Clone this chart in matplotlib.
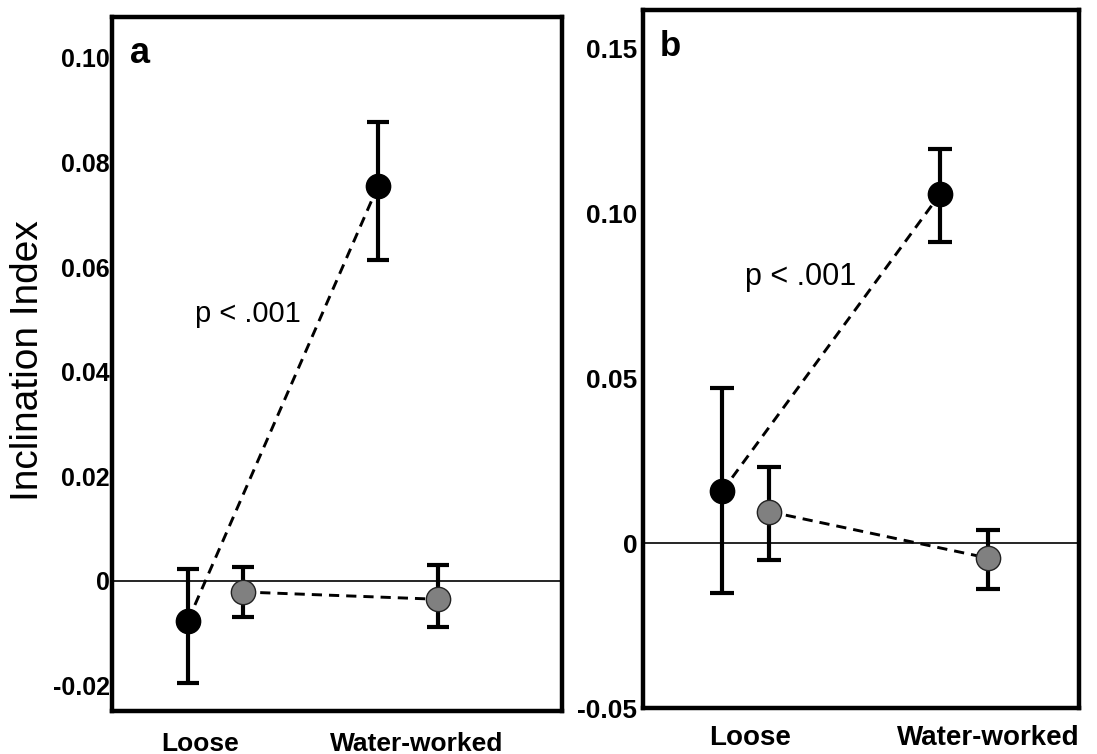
import matplotlib
matplotlib.use("Agg")
import matplotlib.pyplot as plt

plt.rcParams['font.family'] = ['Liberation Sans', 'DejaVu Sans']

# ---- data -------------------------------------------------------------
categories = ["Loose", "Water-worked"]

# panel a
a_black_mean = [-0.0076, 0.0755]
a_black_low = [-0.0195, 0.0614]
a_black_high = [0.0023, 0.0878]
a_gray_mean = [-0.0021, -0.0035]
a_gray_low = [-0.0069, -0.0088]
a_gray_high = [0.0027, 0.0031]
a_yticks = [-0.02, 0.0, 0.02, 0.04, 0.06, 0.08, 0.10]
a_yticklabels = ["-0.02", "0", "0.02", "0.04", "0.06", "0.08", "0.10"]

# panel b
b_black_mean = [0.0157, 0.1059]
b_black_low = [-0.0151, 0.0913]
b_black_high = [0.0471, 0.1197]
b_gray_mean = [0.0096, -0.0045]
b_gray_low = [-0.0050, -0.0138]
b_gray_high = [0.0232, 0.0040]
b_yticks = [-0.05, 0.0, 0.05, 0.10, 0.15]
b_yticklabels = ["-0.05", "0", "0.05", "0.10", "0.15"]

p_text = "p < .001"

# ---- layout -------------------------------------------------------------
fig = plt.figure(figsize=(10.97, 7.54), dpi=100)
ax_a = fig.add_axes([0.1021, 0.0570, 0.4102, 0.9204])
ax_b = fig.add_axes([0.5861, 0.0610, 0.3975, 0.9257])

GRAY = "#808080"


def errs(mean, low, high):
    return [[m - l for m, l in zip(mean, low)], [h - m for m, h in zip(mean, high)]]


def draw_series(ax, x, mean, low, high, face, edge, ms, capsize):
    ax.errorbar(x, mean, yerr=errs(mean, low, high), fmt="none",
                ecolor="black", elinewidth=3.0, capsize=capsize, capthick=3.0,
                zorder=3)
    ax.plot(x, mean, linestyle="none", marker="o", markersize=ms,
            markerfacecolor=face, markeredgecolor=edge, markeredgewidth=1.0,
            zorder=4)


def draw_panel(ax, letter, xb, xg, xt, bm, bl, bh, gm, gl, gh,
               yticks, yticklabels, ylim, xlim, ptxt_xy,
               tick_fs, cat_fs, p_fs, letter_fs, capsize, ypad, xpad):
    ax.axhline(0, color="black", lw=1.2, zorder=1)
    dash = (0, (3.5, 2.4))
    # dashed connectors
    ax.plot(xb, bm, color="black", lw=2.1, linestyle=dash, zorder=2)
    ax.plot(xg, gm, color="black", lw=2.1, linestyle=dash, zorder=2)
    # error bars with markers
    draw_series(ax, xb, bm, bl, bh, "black", "black", 17.5, capsize)
    draw_series(ax, xg, gm, gl, gh, GRAY, "#222222", 17.5, capsize)

    ax.set_xlim(*xlim)
    ax.set_ylim(*ylim)
    ax.set_yticks(yticks)
    ax.set_yticklabels(yticklabels, fontsize=tick_fs, fontweight="bold")
    ax.set_xticks(xt)
    ax.set_xticklabels(categories, fontsize=cat_fs, fontweight="bold")
    ax.tick_params(axis="y", length=0, pad=ypad)
    ax.tick_params(axis="x", length=0, pad=xpad)
    for sp in ax.spines.values():
        sp.set_linewidth(3.2)

    ax.text(ptxt_xy[0], ptxt_xy[1], p_text, fontsize=p_fs, ha="left",
            va="baseline")
    ax.text(0.062, 0.934, letter, transform=ax.transAxes, fontsize=letter_fs,
            fontweight="bold", ha="center", va="baseline")


draw_panel(ax_a, "a",
           xb=[0.94, 1.89], xg=[1.215, 2.19], xt=[1.0, 2.085],
           bm=a_black_mean, bl=a_black_low, bh=a_black_high,
           gm=a_gray_mean, gl=a_gray_low, gh=a_gray_high,
           yticks=a_yticks, yticklabels=a_yticklabels,
           ylim=(-0.02486, 0.1078), xlim=(0.56, 2.81),
           ptxt_xy=(0.975, 0.0495),
           tick_fs=18, cat_fs=19, p_fs=21, letter_fs=26, capsize=8,
           ypad=1.5, xpad=15)

draw_panel(ax_b, "b",
           xb=[0.86, 1.95], xg=[1.095, 2.19], xt=[1.0, 2.19],
           bm=b_black_mean, bl=b_black_low, bh=b_black_high,
           gm=b_gray_mean, gl=b_gray_low, gh=b_gray_high,
           yticks=b_yticks, yticklabels=b_yticklabels,
           ylim=(-0.0493, 0.1618), xlim=(0.465, 2.645),
           ptxt_xy=(0.975, 0.0783),
           tick_fs=19, cat_fs=20, p_fs=22, letter_fs=25, capsize=8.3,
           ypad=4, xpad=12)

fig.text(28 / 1097, 1 - 361 / 754, "Inclination Index", rotation=90,
         fontsize=28, ha="center", va="center")

fig.savefig("out.png", dpi=100)
